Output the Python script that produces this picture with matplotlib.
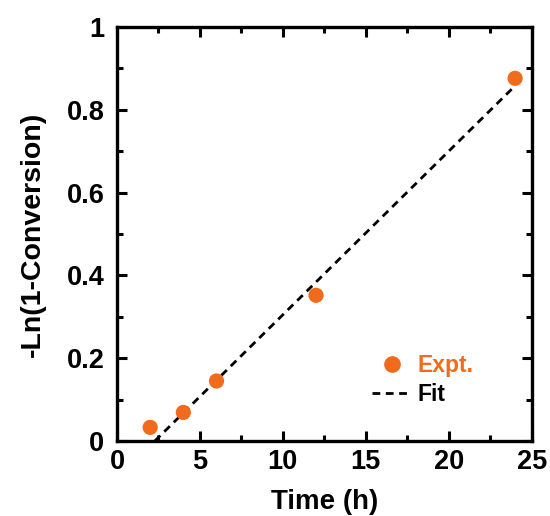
import matplotlib
matplotlib.use("Agg")
import matplotlib.pyplot as plt
from matplotlib.ticker import MultipleLocator, FuncFormatter
from matplotlib.lines import Line2D

time_h = [2, 4, 6, 12, 24]
neg_ln = [0.033, 0.069, 0.145, 0.352, 0.876]
fit_x = [2.28, 24.0]
fit_y = [0.0, 0.858]

x_ticks = [0, 5, 10, 15, 20, 25]
y_ticks = [0, 0.2, 0.4, 0.6, 0.8, 1.0]

orange = "#F26A1B"
plt.rcParams['font.family'] = ['Liberation Sans', 'DejaVu Sans']
plt.rcParams['font.weight'] = 'bold'

fig = plt.figure(figsize=(5.5, 5.16), dpi=100)
ax = fig.add_axes([0.2127, 0.1453, 0.754, 0.8024])

ax.plot(fit_x, fit_y, color='black', lw=2, linestyle=(0, (2.8, 2)), zorder=2)
ax.scatter(time_h, neg_ln, s=120, color=orange, edgecolors='none', zorder=3)

ax.set_xlim(0, 25)
ax.set_ylim(0, 1)
ax.set_xticks(x_ticks)
ax.set_yticks(y_ticks)
ax.xaxis.set_minor_locator(MultipleLocator(2.5))
ax.yaxis.set_minor_locator(MultipleLocator(0.1))
ax.yaxis.set_major_formatter(FuncFormatter(lambda v, p: f"{v:g}"))

for s in ax.spines.values():
    s.set_linewidth(2.4)
ax.tick_params(which='both', direction='in', top=True, right=True, width=2.2)
ax.tick_params(which='major', length=7, labelsize=19.5)
ax.tick_params(axis='x', which='major', pad=6)
ax.tick_params(axis='y', which='major', pad=9)
ax.tick_params(which='minor', length=4)
for lab in ax.get_xticklabels() + ax.get_yticklabels():
    lab.set_fontweight('bold')

ax.set_xlabel("Time (h)", fontsize=20, fontweight='bold', labelpad=10)
ax.set_ylabel("-Ln(1-Conversion)", fontsize=20.5, fontweight='bold', labelpad=15)

handles = [
    Line2D([], [], marker='o', linestyle='none', color=orange, markersize=11),
    Line2D([], [], color='black', lw=2, linestyle=(0, (2.8, 2))),
]
leg = ax.legend(handles, ["Expt.", "Fit"], loc='upper left', bbox_to_anchor=(0.592, 0.232),
                frameon=False, fontsize=16.5, handlelength=1.75, handletextpad=0.26,
                labelspacing=0.25, borderaxespad=0)
leg.get_texts()[0].set_color(orange)
for t in leg.get_texts():
    t.set_fontweight('bold')

fig.savefig("out.png", dpi=100)
